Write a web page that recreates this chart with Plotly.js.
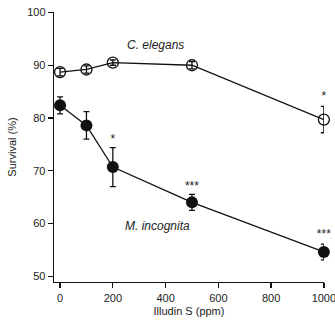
<!DOCTYPE html>
<html><head><meta charset="utf-8">
<script src="https://cdn.plot.ly/plotly-3.0.1.min.js"></script>
<style>html,body{margin:0;padding:0;background:#fff}#c{width:335px;height:320px}</style>
</head><body><div id="c"></div>
<script>
const dose = [0, 100, 200, 500, 1000];
const elegansMean = [88.7, 89.2, 90.5, 90.0, 79.7];
const elegansErr = [0.7, 0.7, 0.5, 0.7, 2.5];
const incognitaMean = [82.4, 78.6, 70.7, 64.0, 54.6];
const incognitaErr = [1.6, 2.6, 3.7, 1.5, 1.5];
const sigX = [1000, 200, 500, 1000];
const sigY = [84.0, 75.8, 67.0, 57.8];
const sigText = ['*', '*', '***', '***'];
const xTicks = [0, 200, 400, 600, 800, 1000];
const yTicks = [50, 60, 70, 80, 90, 100];

const font = {family: 'Liberation Sans, Arial, sans-serif', size: 11, color: '#222'};
const traces = [
  {x: dose, y: elegansMean, mode: 'lines+markers', type: 'scatter', cliponaxis: false,
   line: {color: '#111', width: 1.3},
   marker: {symbol: 'circle-open', size: 11, color: '#111', line: {width: 1.3, color: '#111'}},
   error_y: {type: 'data', array: elegansErr, visible: true, color: '#111', thickness: 1.3, width: 3}},
  {x: dose, y: incognitaMean, mode: 'lines+markers', type: 'scatter', cliponaxis: false,
   line: {color: '#111', width: 1.3},
   marker: {symbol: 'circle', size: 12, color: '#111'},
   error_y: {type: 'data', array: incognitaErr, visible: true, color: '#111', thickness: 1.3, width: 3}},
  {x: sigX, y: sigY, mode: 'text', type: 'scatter', text: sigText, cliponaxis: false,
   textfont: {family: font.family, size: 12, color: '#222'}, hoverinfo: 'skip'}
];
const layout = {
  width: 335, height: 320, showlegend: false,
  paper_bgcolor: '#fff', plot_bgcolor: '#fff',
  margin: {l: 54, r: 11, t: 12, b: 38},
  font: font,
  xaxis: {range: [-23, 1000.5], tickvals: xTicks, ticks: 'outside', ticklen: 5, tickwidth: 1.3,
          tickcolor: '#111', showline: true, linecolor: '#111', linewidth: 1.3, showgrid: false,
          ticklabeloverflow: 'allow',
          zeroline: false, title: {text: 'Illudin S (ppm)', font: font, standoff: 4}},
  yaxis: {range: [48.9, 100.1], tickvals: yTicks, ticks: 'outside', ticklen: 5, tickwidth: 1.3,
          tickcolor: '#111', showline: true, linecolor: '#111', linewidth: 1.3, showgrid: false,
          zeroline: false, title: {text: 'Survival (%)', font: font, standoff: 8}},
  annotations: [
    {x: 360, y: 93.75, text: '<i>C. elegans</i>', showarrow: false, font: {family: font.family, size: 12, color: '#222'}},
    {x: 371, y: 59.5, text: '<i>M. incognita</i>', showarrow: false, font: {family: font.family, size: 12, color: '#222'}}
  ]
};
Plotly.newPlot('c', traces, layout, {displayModeBar: false, staticPlot: true});
</script></body></html>
